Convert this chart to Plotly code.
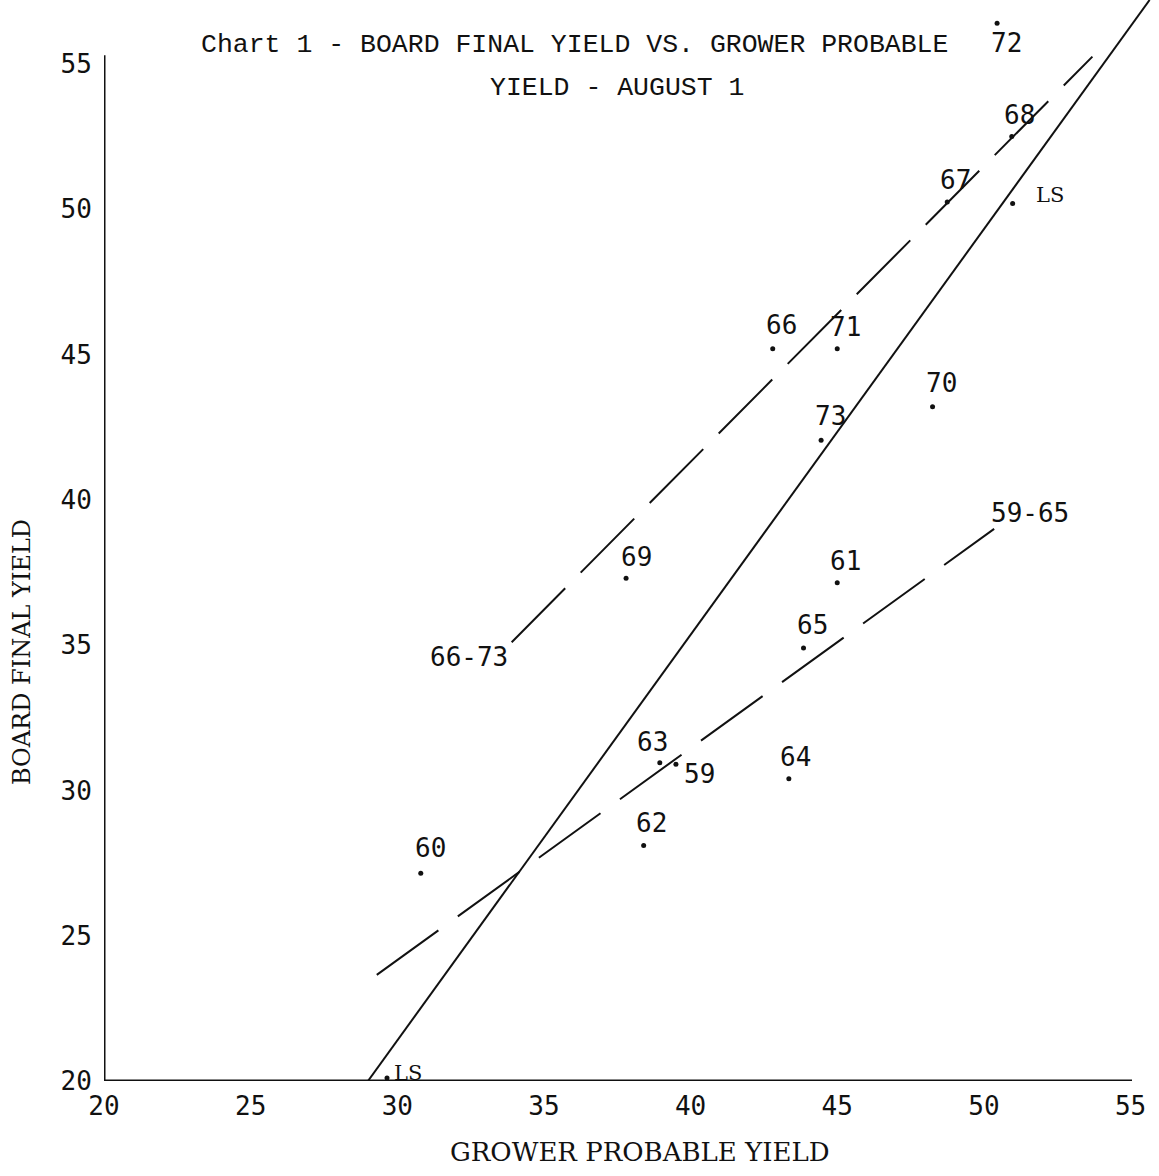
import plotly.graph_objects as go

# ---------------- data ----------------
years = ["59", "60", "61", "62", "63", "64", "65", "66", "67", "68", "69", "70", "71", "72", "73"]
grower_x = [39.5, 30.8, 45.0, 38.4, 38.95, 43.35, 43.85, 42.8, 48.75, 50.95, 37.8, 48.25, 45.0, 50.45, 44.45]
board_y = [30.9, 27.15, 37.15, 28.1, 30.95, 30.4, 34.9, 45.2, 50.25, 52.5, 37.3, 43.2, 45.2, 56.4, 42.05]

ls_points_x = [29.65, 50.98]
ls_points_y = [20.1, 50.2]
ls_labels = ["LS", "LS"]

ls_line_x = [29.0, 55.65]
ls_line_y = [20.0, 57.2]

fit_6673_x = [33.9, 53.7]
fit_6673_y = [35.1, 55.25]

fit_5965_x = [29.3, 50.35]
fit_5965_y = [23.65, 39.0]

tick_vals = [20, 25, 30, 35, 40, 45, 50, 55]
tick_text = ["20", "25", "30", "35", "40", "45", "50", "55"]

# label offsets in pixels (styling)
label_shift = {
    "59": (24, -10), "60": (10, 25), "61": (8, 22), "62": (8, 23), "63": (-7, 21),
    "64": (7, 22), "65": (9, 23), "66": (9, 24), "67": (8, 22), "68": (8, 22),
    "69": (10, 21), "70": (9, 24), "71": (8, 22), "72": (9, -20), "73": (9, 24),
}
ls_shift = [(21, 5), (37, 8)]

INK = "#111111"
MONO = "DejaVu Sans Mono"
TYPE = "Liberation Mono"
SERIF = "DejaVu Serif"

fig = go.Figure()

# least squares line (solid)
fig.add_trace(go.Scatter(x=ls_line_x, y=ls_line_y, mode="lines",
                         line=dict(color=INK, width=2), hoverinfo="skip"))
# 66-73 dashed
fig.add_trace(go.Scatter(x=fit_6673_x, y=fit_6673_y, mode="lines",
                         line=dict(color=INK, width=2, dash="76px,22px"), hoverinfo="skip"))
# 59-65 dashed
fig.add_trace(go.Scatter(x=fit_5965_x, y=fit_5965_y, mode="lines",
                         line=dict(color=INK, width=2, dash="76px,24px"), hoverinfo="skip"))

# data points
fig.add_trace(go.Scatter(x=grower_x, y=board_y, mode="markers",
                         marker=dict(color=INK, size=5), text=years))
fig.add_trace(go.Scatter(x=ls_points_x, y=ls_points_y, mode="markers",
                         marker=dict(color=INK, size=5), text=ls_labels))

annotations = []
for yr, xv, yv in zip(years, grower_x, board_y):
    dx, dy = label_shift[yr]
    annotations.append(dict(x=xv, y=yv, xref="x", yref="y", text=yr, showarrow=False,
                            xanchor="center", yanchor="middle",
                            xshift=dx, yshift=dy, font=dict(family=MONO, size=26, color=INK)))
for lab, xv, yv, (dx, dy) in zip(ls_labels, ls_points_x, ls_points_y, ls_shift):
    annotations.append(dict(x=xv, y=yv, xref="x", yref="y", text=lab, showarrow=False,
                            xanchor="center", yanchor="middle",
                            xshift=dx, yshift=dy, font=dict(family=SERIF, size=21, color=INK)))

# line labels
annotations.append(dict(x=fit_6673_x[0], y=fit_6673_y[0], xref="x", yref="y", text="66-73",
                        showarrow=False, xanchor="center", yanchor="middle", xshift=-43, yshift=-15,
                        font=dict(family=MONO, size=26, color=INK)))
annotations.append(dict(x=fit_5965_x[1], y=fit_5965_y[1], xref="x", yref="y", text="59-65",
                        showarrow=False, xanchor="center", yanchor="middle", xshift=36, yshift=16,
                        font=dict(family=MONO, size=26, color=INK)))

# chart title (two typed lines), axis titles: positions in page pixels from top-left
page_texts = [
    ("Chart 1 - BOARD FINAL YIELD VS. GROWER PROBABLE", 574, 45, TYPE, 26.5, 0),
    ("YIELD - AUGUST 1", 617, 88, TYPE, 26.5, 0),
    ("GROWER PROBABLE YIELD", 640, 1152, SERIF, 26, 0),
    ("BOARD FINAL YIELD", 22, 652, SERIF, 24, -90),
]

L, R, T, B = 104, 5, 0, 95
W, H = 1159, 1176
PW, PH = W - L - R, H - T - B
for txt, px, py, fam, sz, ang in page_texts:
    annotations.append(dict(x=(px - L) / PW, y=(H - py - B) / PH, xref="paper", yref="paper",
                            text=txt, showarrow=False, xanchor="center", yanchor="middle",
                            textangle=ang, font=dict(family=fam, size=sz, color=INK)))

shapes = [
    dict(type="line", xref="x", yref="y", x0=20, y0=20, x1=20, y1=55.3, line=dict(color=INK, width=3)),
    dict(type="line", xref="x", yref="y", x0=20, y0=20, x1=55.05, y1=20, line=dict(color=INK, width=3)),
]

fig.update_layout(
    width=W, height=H,
    margin=dict(l=L, r=R, t=T, b=B),
    paper_bgcolor="white", plot_bgcolor="white",
    showlegend=False,
    annotations=annotations,
    shapes=shapes,
    xaxis=dict(range=[20, 55.8], tickvals=tick_vals, ticktext=tick_text, showgrid=False,
               zeroline=False, showline=False, ticks="outside", ticklen=2,
               tickcolor="rgba(0,0,0,0)", tickfont=dict(family=MONO, size=26, color=INK)),
    yaxis=dict(range=[20, 57.2], tickvals=tick_vals, ticktext=tick_text, showgrid=False,
               zeroline=False, showline=False, ticks="outside", ticklen=6,
               tickcolor="rgba(0,0,0,0)", tickfont=dict(family=MONO, size=26, color=INK)),
)

fig.write_html("out.html", config={"displayModeBar": False},
               post_script="document.body.style.margin='0';document.body.style.padding='0';")
